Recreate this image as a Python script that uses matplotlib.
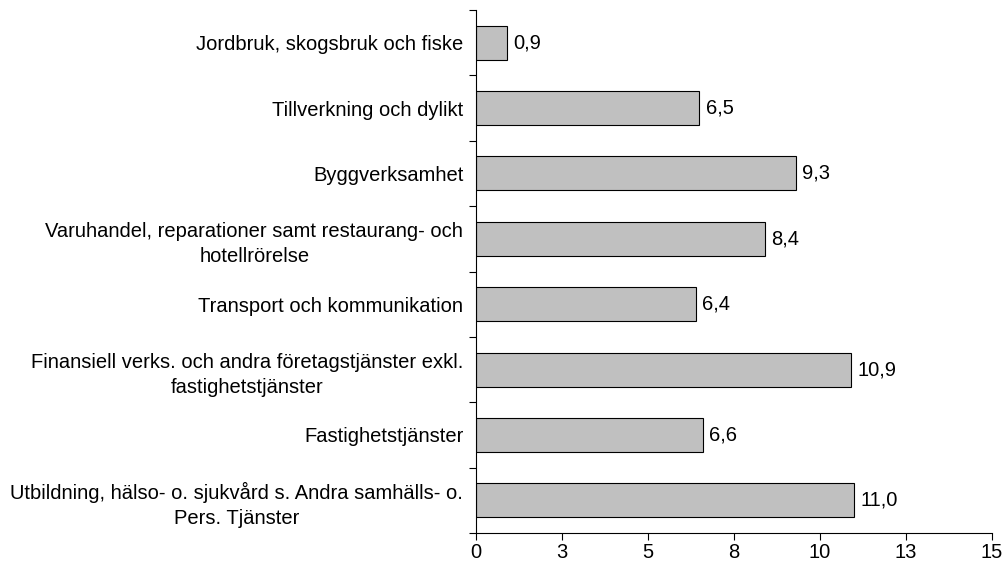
import numpy as np
import matplotlib.pyplot as plt

plt.rcParams['font.family'] = ['Liberation Sans', 'DejaVu Sans']

# Data
categories = [
    "Jordbruk, skogsbruk och fiske",
    "Tillverkning och dylikt",
    "Byggverksamhet",
    "Varuhandel, reparationer samt restaurang- och\nhotellrörelse",
    "Transport och kommunikation",
    "Finansiell verks. och andra företagstjänster exkl.\nfastighetstjänster",
    "Fastighetstjänster",
    "Utbildning, hälso- o. sjukvård s. Andra samhälls- o.\nPers. Tjänster",
]
values = [0.9, 6.5, 9.3, 8.4, 6.4, 10.9, 6.6, 11.0]
xtick_values = [0, 2.5, 5, 7.5, 10, 12.5, 15]
xtick_labels = ["0", "3", "5", "8", "10", "13", "15"]

FS = 14.5

fig = plt.figure(figsize=(10.06, 5.71), dpi=100)
ax = fig.add_axes([0.473, 0.0665, 0.513, 0.916])

y = np.arange(len(categories))
ax.barh(y, values, height=0.52, color='#C0C0C0', edgecolor='black', linewidth=0.8)

for yi, v in zip(y, values):
    ax.text(v + 0.18, yi, f"{v:.1f}".replace('.', ','), va='center', ha='left', fontsize=FS)

ax.set_ylim(len(categories) - 0.5, -0.5)
ax.set_xlim(0, 15)

ax.set_yticks(y)
ax.set_yticklabels(categories, fontsize=FS, ha='right', multialignment='center',
                   linespacing=1.4)
ax.tick_params(axis='y', which='major', length=0, pad=9)
ax.set_yticks(np.arange(-0.5, len(categories), 1.0), minor=True)
ax.tick_params(axis='y', which='minor', length=5, width=0.8, direction='out')

ax.set_xticks(xtick_values)
ax.set_xticklabels(xtick_labels, fontsize=FS)
ax.tick_params(axis='x', length=5, width=0.8, direction='out', pad=2)

for s in ['top', 'right']:
    ax.spines[s].set_visible(False)
for s in ['left', 'bottom']:
    ax.spines[s].set_linewidth(0.8)

fig.savefig('out.png', dpi=100)
